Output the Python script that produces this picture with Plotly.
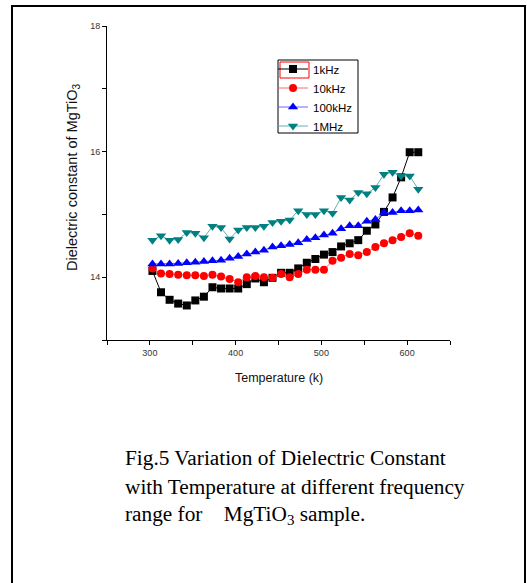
import plotly.graph_objects as go

temperature = [303, 313, 323, 333, 343, 353, 363, 373, 383, 393, 403, 413, 423, 433, 443, 453,
               463, 473, 483, 493, 503, 513, 523, 533, 543, 553, 563, 573, 583, 593, 603, 613]

k_1khz = [14.10, 13.76, 13.64, 13.58, 13.55, 13.63, 13.69, 13.84, 13.82, 13.82, 13.82, 13.89,
          13.98, 13.92, 13.99, 14.07, 14.07, 14.14, 14.23, 14.29, 14.36, 14.40, 14.49, 14.54,
          14.59, 14.74, 14.84, 15.04, 15.27, 15.59, 15.99, 15.99]

k_10khz = [14.14, 14.06, 14.05, 14.04, 14.03, 14.03, 14.02, 14.04, 14.01, 13.97, 13.92, 14.00,
           14.02, 14.00, 13.99, 14.05, 14.00, 14.05, 14.12, 14.12, 14.12, 14.26, 14.31, 14.37,
           14.35, 14.40, 14.48, 14.54, 14.59, 14.64, 14.70, 14.66]

k_100khz = [14.21, 14.21, 14.21, 14.22, 14.23, 14.24, 14.25, 14.26, 14.27, 14.30, 14.33, 14.37,
            14.40, 14.43, 14.48, 14.50, 14.52, 14.55, 14.60, 14.63, 14.67, 14.70, 14.77, 14.82,
            14.82, 14.89, 14.92, 15.03, 15.03, 15.06, 15.06, 15.07]

k_1mhz = [14.59, 14.66, 14.59, 14.60, 14.71, 14.70, 14.63, 14.81, 14.79, 14.61, 14.75, 14.79,
          14.79, 14.81, 14.87, 14.89, 14.91, 15.06, 15.00, 15.00, 15.06, 15.02, 15.27, 15.23,
          15.35, 15.33, 15.43, 15.64, 15.67, 15.61, 15.61, 15.40]

series_names = ["1kHz", "10kHz", "100kHz", "1MHz"]

x_tick_vals = [300, 400, 500, 600]
x_tick_text = ["300", "400", "500", "600"]
x_minor_vals = [250, 350, 450, 550, 650]
y_tick_vals = [14, 16, 18]
y_tick_text = ["14", "16", "18"]
y_minor_vals = [13, 15, 17]

x_title = "Temperature (k)"
y_title = "Dielectric constant of MgTiO<sub>3</sub>"

caption_lines = [
    "Fig.5 Variation of Dielectric Constant",
    "with Temperature at different frequency",
    "range for \u00a0\u00a0\u00a0MgTiO<sub>3</sub> sample.",
]

W, H = 527, 583
L, R, T, B = 107, 77, 26, 243
PW, PH = W - L - R, H - T - B


def px_x(p):
    return (p - L) / PW


def px_y(p):
    return (H - B - p) / PH


fig = go.Figure()

styles = [
    dict(color="#000000", line="#000000", symbol="square", size=8),
    dict(color="#ff0000", line="#ff6666", symbol="circle", size=8),
    dict(color="#0000ff", line="#6666ff", symbol="triangle-up", size=9),
    dict(color="#008080", line="#5fb3b3", symbol="triangle-down", size=9),
]
for name, vals, st in zip(series_names, [k_1khz, k_10khz, k_100khz, k_1mhz], styles):
    fig.add_trace(go.Scatter(
        x=temperature, y=vals, name=name, mode="lines+markers",
        line=dict(color=st["line"], width=1),
        marker=dict(color=st["color"], symbol=st["symbol"], size=st["size"], line=dict(width=0)),
    ))

axis_font = dict(family="Liberation Sans, Arial, sans-serif", size=9, color="#333333")
fig.update_xaxes(
    range=[250, 650], tickmode="array", tickvals=x_tick_vals, ticktext=x_tick_text,
    minor=dict(tickmode="array", tickvals=x_minor_vals, ticks="outside", ticklen=4, tickcolor="#000000", showgrid=False),
    showline=True, linecolor="#000000", linewidth=1, ticks="outside", ticklen=4,
    tickcolor="#000000", showgrid=False, zeroline=False, tickfont=axis_font,
)
fig.update_yaxes(
    range=[13, 18], tickmode="array", tickvals=y_tick_vals, ticktext=y_tick_text,
    minor=dict(tickmode="array", tickvals=y_minor_vals, ticks="outside", ticklen=4, tickcolor="#000000", showgrid=False),
    showline=True, linecolor="#000000", linewidth=1, ticks="outside", ticklen=4,
    tickcolor="#000000", showgrid=False, zeroline=False, tickfont=axis_font,
)

shapes = [
    # outer frame
    dict(type="rect", xref="paper", yref="paper", x0=px_x(12), x1=px_x(525), y0=px_y(600), y1=px_y(6),
         line=dict(color="#000000", width=2), fillcolor="rgba(0,0,0,0)"),
    # legend box
    dict(type="rect", xref="paper", yref="paper", x0=px_x(278), x1=px_x(358), y0=px_y(133), y1=px_y(60),
         line=dict(color="#000000", width=1), fillcolor="#ffffff", layer="below"),
    # red selection box around first legend sample
    dict(type="rect", xref="paper", yref="paper", x0=px_x(280), x1=px_x(309), y0=px_y(78), y1=px_y(62),
         line=dict(color="#ff0000", width=1), fillcolor="rgba(0,0,0,0)"),
]

title_font = dict(family="Liberation Sans, Arial, sans-serif", size=12.5, color="#111111")
annotations = [
    dict(text=x_title, xref="paper", yref="paper", x=px_x(278.5), y=px_y(378),
         xanchor="center", yanchor="middle", showarrow=False, font=title_font),
    dict(text=y_title, xref="paper", yref="paper", x=px_x(73), y=px_y(177), textangle=-90,
         xanchor="center", yanchor="middle", showarrow=False,
         font=dict(family="Liberation Sans, Arial, sans-serif", size=14.5, color="#111111")),
]
for i, line in enumerate(caption_lines):
    annotations.append(dict(
        text=line, xref="paper", yref="paper", x=px_x(123), y=px_y(458 + i * 28.5),
        xanchor="left", yanchor="middle", showarrow=False,
        font=dict(family="Liberation Serif, Times New Roman, serif", size=21.3, color="#000000"),
    ))

fig.update_layout(
    width=W, height=H, margin=dict(l=L, r=R, t=T, b=B, autoexpand=False),
    paper_bgcolor="#ffffff", plot_bgcolor="#ffffff",
    showlegend=True,
    legend=dict(x=px_x(273), y=px_y(54.5), xanchor="left", yanchor="top",
                bgcolor="rgba(0,0,0,0)", borderwidth=0,
                font=dict(family="Liberation Sans, Arial, sans-serif", size=11.5, color="#000000"),
                tracegroupgap=0, itemwidth=30),
    shapes=shapes, annotations=annotations,
)

fig.write_html("out.html")
